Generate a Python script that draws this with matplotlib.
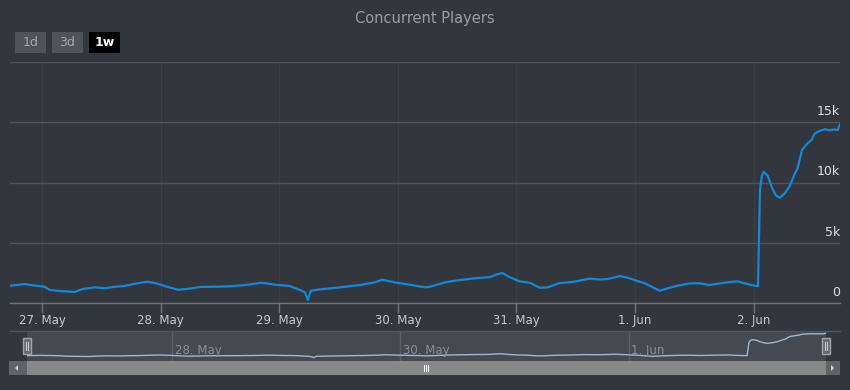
import matplotlib
matplotlib.use("Agg")
import matplotlib.pyplot as plt
import matplotlib.dates as mdates
from matplotlib.patches import Rectangle, Polygon
import pandas as pd

# ---- data: hours relative to 27 May 00:00, concurrent players ----
hours = [-6.5, -3.5, -1.9, 0.5, 1.6, 3.6, 5.6, 6.6, 8.2, 10.7, 12.7, 14.7, 16.7, 18.8,
         21.4, 23.4, 24.8, 27.5, 29.9, 31.9, 34.9, 38.0, 41.0, 44.5, 47.1, 50.1, 52.2,
         53.2, 53.8, 54.4, 56.2, 60.3, 64.3, 67.3, 68.9, 71.4, 74.4, 77.5, 78.5, 81.5,
         84.6, 87.6, 90.6, 92.2, 93.2, 94.6, 96.6, 98.7, 100.7, 102.3, 104.7, 107.8,
         110.8, 112.9, 114.5, 116.9, 118.5, 120.3, 122.0, 125.0, 126.6, 129.0, 131.1,
         133.1, 135.1, 137.2, 139.2, 140.8, 142.2, 144.3, 144.9, 145.3, 145.7, 146.1,
         146.9, 147.7, 148.5, 149.3, 150.3, 151.3, 152.3, 152.9, 153.8, 154.6, 155.8,
         156.4, 157.4, 158.4, 159.4, 160.4, 161.0, 161.5]
players = [1430, 1575, 1470, 1350, 1080, 995, 940, 910, 1160, 1300, 1220, 1350, 1410, 1600,
           1770, 1600, 1410, 1100, 1190, 1330, 1350, 1380, 1490, 1680, 1520, 1410, 1080,
           890, 250, 1020, 1130, 1300, 1490, 1710, 1930, 1710, 1520, 1300, 1350, 1710,
           1910, 2050, 2150, 2400, 2480, 2150, 1800, 1680, 1270, 1300, 1650, 1770,
           2020, 1950, 1990, 2240, 2100, 1850, 1630, 1020, 1220, 1470, 1630,
           1630, 1490, 1630, 1740, 1800, 1630, 1430, 1400, 9370, 10600, 10880,
           10520, 9590, 8950, 8730, 9090, 9700, 10690, 11160, 12680, 13100, 13570,
           14070, 14280, 14420, 14340, 14400, 14340, 14840]

title = "Concurrent Players"
y_ticks = [0, 5000, 10000, 15000]
y_labels = ["0", "5k", "10k", "15k"]
range_buttons = ["1d", "3d", "1w"]
nav_label_days = ["2023-05-28", "2023-05-30", "2023-06-01"]

base = pd.Timestamp("2023-05-27 00:00")
times = base + pd.to_timedelta(hours, unit="h")
t_start = base + pd.Timedelta(hours=-6.5)
t_end = base + pd.Timedelta(hours=161.5)

BG = "#33373d"
GRID = "#4f5358"
LINE = "#0f88dd"
W, H = 850, 390

fig = plt.figure(figsize=(8.5, 3.9), dpi=100, facecolor=BG)

def fx(x):
    return x / W

def fy(y):
    return 1 - y / H

# ---- main chart ----
ax = fig.add_axes([fx(10), fy(303), 830 / W, 241 / H])
ax.set_facecolor(BG)
ax.plot(times, players, color=LINE, lw=1.6, solid_joinstyle="round")
ax.set_xlim(t_start, t_end)
ax.set_ylim(0, 20000)
for s in ["top", "left", "right"]:
    ax.spines[s].set_visible(False)
ax.spines["bottom"].set_color("#707378")
ax.spines["bottom"].set_linewidth(1)
ax.set_yticks([0, 5000, 10000, 15000, 20000])
ax.tick_params(axis="y", left=False, right=False, labelleft=False)
ax.grid(axis="y", color=GRID, lw=1)
ax.grid(axis="x", color="#3b3f44", lw=1)
ax.xaxis.set_major_locator(mdates.DayLocator())
ax.xaxis.set_major_formatter(mdates.DateFormatter("%-d. %b"))
ax.tick_params(axis="x", colors="#707378", length=7, width=1, pad=1,
               labelcolor="#c8c8c8", labelsize=8.5)
for v, lab in zip(y_ticks, y_labels):
    ax.annotate(lab, xy=(1, v), xycoords=("axes fraction", "data"),
                xytext=(0, 3), textcoords="offset points",
                ha="right", va="bottom", color="#e0e0e0", fontsize=9)
ax.set_axisbelow(True)

# ---- navigator ----
nav = fig.add_axes([fx(27), fy(361), 799 / W, 30 / H])
nav.set_facecolor("#464a50")
nav.plot(times, players, color="#9ab8d6", lw=1)
nav.set_xlim(t_start, t_end)
nav.set_ylim(-1780, 16030)
for s in nav.spines.values():
    s.set_visible(False)
nav.set_yticks([])
nav.xaxis.set_major_locator(mdates.DayLocator(bymonthday=[28, 30, 1]))
nav.grid(axis="x", color="#5c6065", lw=1)
nav.tick_params(axis="x", length=0, labelbottom=False)
for d in nav_label_days:
    ts = pd.Timestamp(d)
    nav.annotate(ts.strftime("%-d. %b"), xy=(ts, 0), xycoords=("data", "axes fraction"),
                 xytext=(2, 3), textcoords="offset points", ha="left", va="bottom",
                 color="#8a8d91", fontsize=8.5)

# ---- decoration overlay (title, buttons, scrollbar, handles) ----
ov = fig.add_axes([0, 0, 1, 1])
ov.set_xlim(0, W)
ov.set_ylim(H, 0)
ov.axis("off")
ov.patch.set_alpha(0)

ov.text(425, 18, title, ha="center", va="center", color="#9c9c9c", fontsize=10.5)

btn_x = [15, 52, 89]
for bx, lab in zip(btn_x, range_buttons):
    active = lab == "1w"
    ov.add_patch(Rectangle((bx, 32), 31, 21, facecolor="#000000" if active else "#505357",
                           edgecolor="none"))
    ov.text(bx + 15.5, 43, lab, ha="center", va="center",
            color="#ffffff" if active else "#a8a8a8",
            fontsize=9, fontweight="bold" if active else "normal")

# navigator top outline
ov.plot([10, 840], [331, 331], color="#4f5358", lw=1)

# handles
for hx in [27, 826]:
    ov.add_patch(Rectangle((hx - 4, 338), 8, 16, facecolor="#66696d", edgecolor="#a0a3a7", lw=1))
    ov.plot([hx - 1, hx - 1], [342, 350], color="#c8c8c8", lw=0.8)
    ov.plot([hx + 1, hx + 1], [342, 350], color="#c8c8c8", lw=0.8)

# scrollbar
ov.add_patch(Rectangle((9, 361), 831, 14, facecolor="#5f6266", edgecolor="none"))
ov.add_patch(Rectangle((27, 361), 799, 14, facecolor="#888888", edgecolor="none"))
ov.add_patch(Polygon([[18, 365], [18, 371], [15, 368]], closed=True, facecolor="#d0d0d0"))
ov.add_patch(Polygon([[831, 365], [831, 371], [834, 368]], closed=True, facecolor="#d0d0d0"))
for gx in [424, 426, 428]:
    ov.plot([gx, gx], [365, 371], color="#ffffff", lw=0.7)

fig.savefig("out.png", dpi=100, facecolor=BG)
